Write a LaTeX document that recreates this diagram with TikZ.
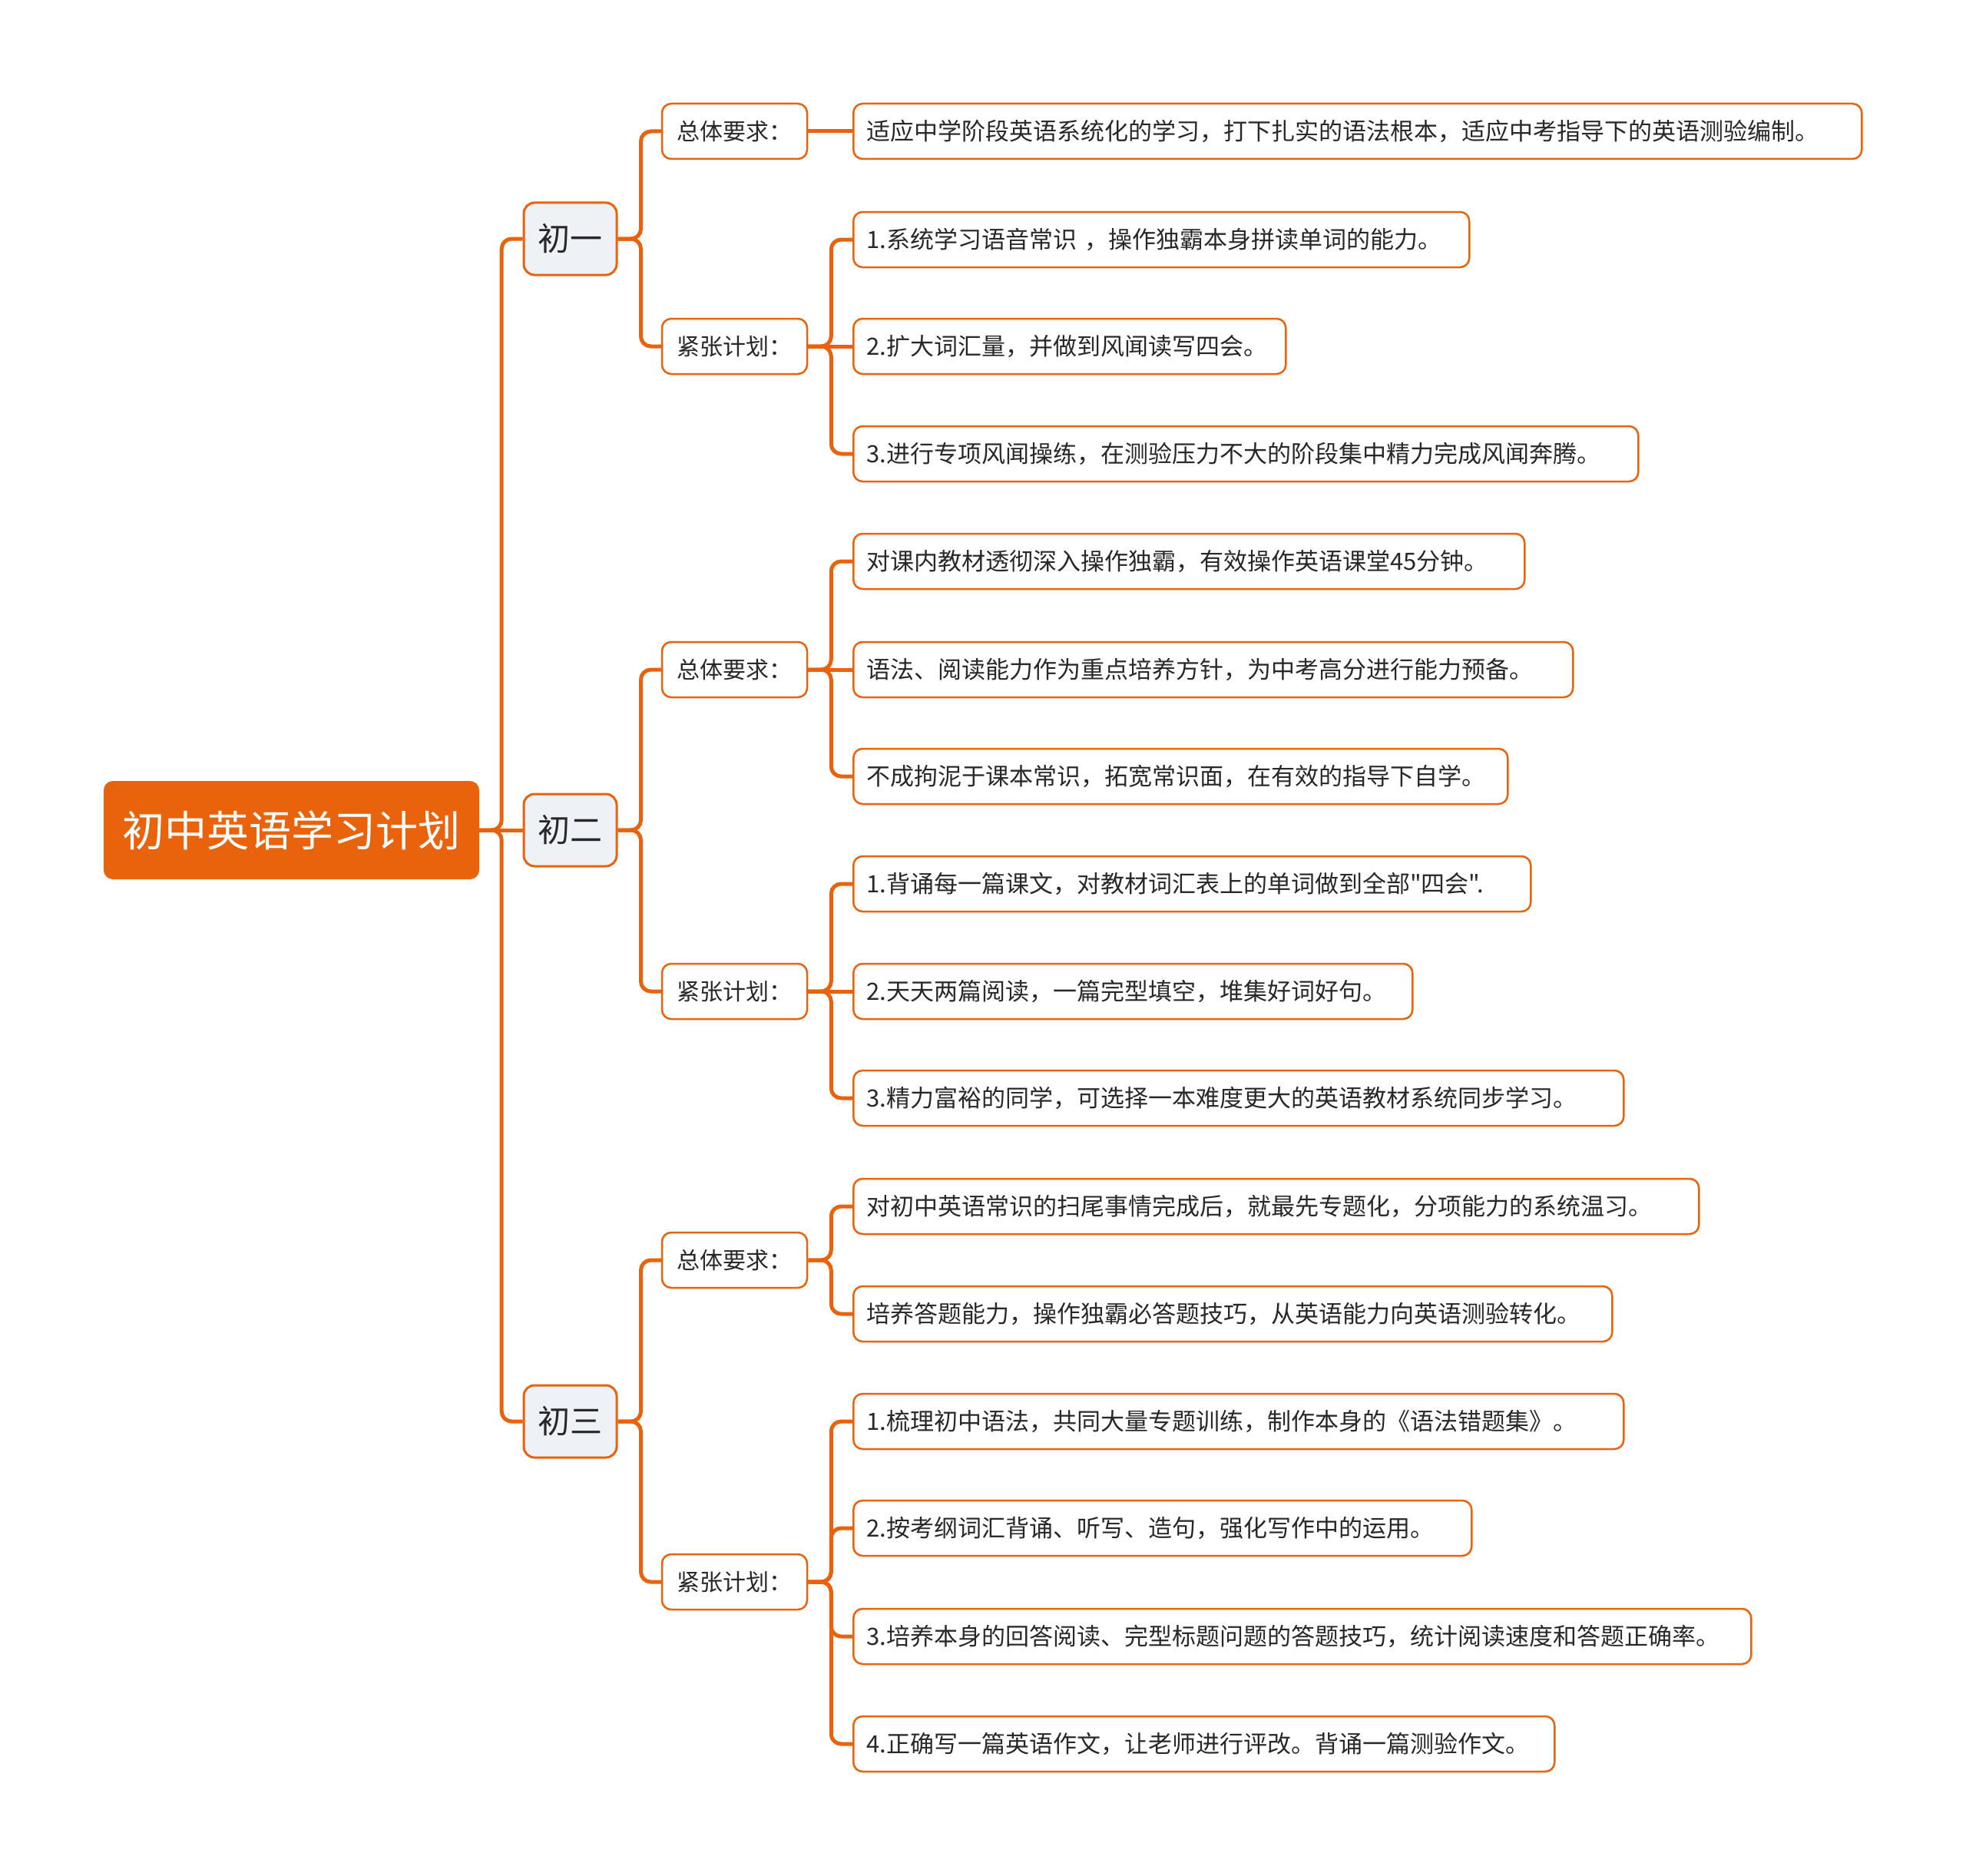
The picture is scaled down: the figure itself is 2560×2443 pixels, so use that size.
\documentclass[tikz,border=0pt]{standalone}
\usepackage{fontspec}
\newfontfamily\cjk{Noto Sans CJK SC}
\usepackage{tikz}
\usetikzlibrary{positioning}
\definecolor{naranja}{RGB}{232,99,12}
\definecolor{grisazul}{RGB}{238,241,245}
\definecolor{texto}{RGB}{40,40,40}

\begin{document}
\begin{tikzpicture}[
    x=1pt, y=-1pt,
    font=\cjk,
    raiz/.style={rectangle, fill=naranja, rounded corners=12pt,
      minimum width=489pt, minimum height=128pt, text=white,
      font=\cjk\fontsize{55}{60}\selectfont},
    grado/.style={rectangle, draw=naranja, line width=3pt, fill=grisazul,
      rounded corners=14pt, minimum width=121pt, minimum height=94pt,
      text=texto, font=\cjk\fontsize{42}{46}\selectfont},
    rubro/.style={rectangle, draw=naranja, line width=2.5pt, fill=white,
      rounded corners=12pt, minimum width=189pt, minimum height=72pt,
      text=texto, font=\cjk\fontsize{30}{36}\selectfont},
    item/.style={rectangle, draw=naranja, line width=2.5pt, fill=white,
      rounded corners=12pt, anchor=west, align=left, inner xsep=17pt,
      minimum height=72pt, text=texto, font=\cjk\fontsize{31}{36}\selectfont},
    rama/.style={draw=naranja, line width=5pt, rounded corners=13pt}
  ]
    \useasboundingbox (0,0) rectangle (2560,2443);

    \node[raiz] (raiz) at (379.5,1081) {初中英语学习计划};
    \node[grado] (g1) at (742.5,311) {初一};
    \node[grado] (g2) at (742.5,1081) {初二};
    \node[grado] (g3) at (742.5,1851) {初三};

    \node[rubro] (z1) at (956.5,171) {总体要求：};
    \node[rubro] (j1) at (956.5,451) {紧张计划：};
    \node[rubro] (z2) at (956.5,872) {总体要求：};
    \node[rubro] (j2) at (956.5,1291) {紧张计划：};
    \node[rubro] (z3) at (956.5,1641) {总体要求：};
    \node[rubro] (j3) at (956.5,2060) {紧张计划：};

    \node[item, text width=1279pt] (t1) at (1110,171) {适应中学阶段英语系统化的学习，打下扎实的语法根本，适应中考指导下的英语测验编制。};
    \node[item, text width=768pt] (t2) at (1110,312) {1.系统学习语音常识 ，操作独霸本身拼读单词的能力。};
    \node[item, text width=529pt] (t3) at (1110,451) {2.扩大词汇量，并做到风闻读写四会。};
    \node[item, text width=988pt] (t4) at (1110,591) {3.进行专项风闻操练，在测验压力不大的阶段集中精力完成风闻奔腾。};
    \node[item, text width=840pt] (t5) at (1110,731) {对课内教材透彻深入操作独霸，有效操作英语课堂45分钟。};
    \node[item, text width=903pt] (t6) at (1110,872) {语法、阅读能力作为重点培养方针，为中考高分进行能力预备。};
    \node[item, text width=818pt] (t7) at (1110,1011) {不成拘泥于课本常识，拓宽常识面，在有效的指导下自学。};
    \node[item, text width=848pt] (t8) at (1110,1151) {1.背诵每一篇课文，对教材词汇表上的单词做到全部"四会".};
    \node[item, text width=694pt] (t9) at (1110,1291) {2.天天两篇阅读，一篇完型填空，堆集好词好句。};
    \node[item, text width=969pt] (t10) at (1110,1430) {3.精力富裕的同学，可选择一本难度更大的英语教材系统同步学习。};
    \node[item, text width=1067pt] (t11) at (1110,1571) {对初中英语常识的扫尾事情完成后，就最先专题化，分项能力的系统温习。};
    \node[item, text width=954pt] (t12) at (1110,1711) {培养答题能力，操作独霸必答题技巧，从英语能力向英语测验转化。};
    \node[item, text width=969pt] (t13) at (1110,1851) {1.梳理初中语法，共同大量专题训练，制作本身的《语法错题集》。};
    \node[item, text width=771pt] (t14) at (1110,1990) {2.按考纲词汇背诵、听写、造句，强化写作中的运用。};
    \node[item, text width=1135pt] (t15) at (1110,2131) {3.培养本身的回答阅读、完型标题问题的答题技巧，统计阅读速度和答题正确率。};
    \node[item, text width=879pt] (t16) at (1110,2271) {4.正确写一篇英语作文，让老师进行评改。背诵一篇测验作文。};

    \draw[rama] (raiz.east) -- (g2.west);
    \draw[rama] (raiz.east) -- ++(29,0) |- (g1.west);
    \draw[rama] (raiz.east) -- ++(29,0) |- (g3.west);

    \draw[rama] (g1.east) -- ++(30,0) |- (z1.west);
    \draw[rama] (g1.east) -- ++(30,0) |- (j1.west);
    \draw[rama] (g2.east) -- ++(30,0) |- (z2.west);
    \draw[rama] (g2.east) -- ++(30,0) |- (j2.west);
    \draw[rama] (g3.east) -- ++(30,0) |- (z3.west);
    \draw[rama] (g3.east) -- ++(30,0) |- (j3.west);

    \draw[rama] (z1.east) -- (t1.west);
    \draw[rama] (j1.east) -- ++(30,0) |- (t2.west);
    \draw[rama] (j1.east) -- (t3.west);
    \draw[rama] (j1.east) -- ++(30,0) |- (t4.west);
    \draw[rama] (z2.east) -- ++(30,0) |- (t5.west);
    \draw[rama] (z2.east) -- (t6.west);
    \draw[rama] (z2.east) -- ++(30,0) |- (t7.west);
    \draw[rama] (j2.east) -- ++(30,0) |- (t8.west);
    \draw[rama] (j2.east) -- (t9.west);
    \draw[rama] (j2.east) -- ++(30,0) |- (t10.west);
    \draw[rama] (z3.east) -- ++(30,0) |- (t11.west);
    \draw[rama] (z3.east) -- ++(30,0) |- (t12.west);
    \draw[rama] (j3.east) -- ++(30,0) |- (t13.west);
    \draw[rama] (j3.east) -- ++(30,0) |- (t14.west);
    \draw[rama] (j3.east) -- ++(30,0) |- (t15.west);
    \draw[rama] (j3.east) -- ++(30,0) |- (t16.west);
  \end{tikzpicture}
\end{document}
